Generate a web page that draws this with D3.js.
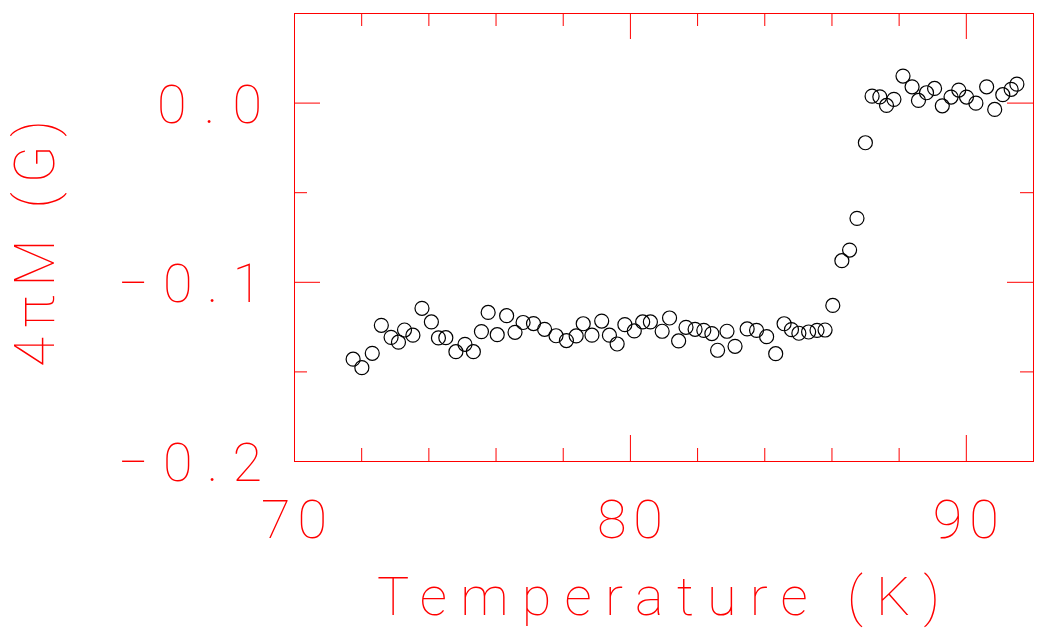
<!DOCTYPE html>
<html>
<head>
<meta charset="utf-8">
<script src="https://cdn.jsdelivr.net/npm/d3@7"></script>
<style>
  html, body { margin: 0; padding: 0; background: #fff; }
  svg { display: block; }
</style>
</head>
<body>
<div id="chart"></div>
<script>
// ── Data ──────────────────────────────────────────────────────
var temperature = [
  71.76, 72.02, 72.33, 72.60, 72.89, 73.11, 73.29, 73.54, 73.81, 74.09,
  74.30, 74.52, 74.82, 75.09, 75.34, 75.58, 75.78, 76.05, 76.33, 76.58,
  76.82, 77.13, 77.46, 77.80, 78.11, 78.40, 78.61, 78.87, 79.16, 79.39,
  79.62, 79.85, 80.13, 80.38, 80.61, 80.96, 81.18, 81.45, 81.67, 81.94,
  82.20, 82.44, 82.61, 82.89, 83.13, 83.49, 83.77, 84.07, 84.34, 84.59,
  84.81, 85.03, 85.32, 85.57, 85.81, 86.04, 86.31, 86.54, 86.76, 87.01,
  87.21, 87.44, 87.64, 87.86, 88.13, 88.40, 88.59, 88.83, 89.07, 89.30,
  89.56, 89.79, 90.02, 90.30, 90.62, 90.86, 91.10, 91.35, 91.52
];
var magnetization = [
  -0.1432, -0.1479, -0.1399, -0.1243, -0.1310, -0.1337, -0.1269, -0.1298, -0.1148, -0.1224,
  -0.1313, -0.1312, -0.1390, -0.1349, -0.1390, -0.1278, -0.1171, -0.1295, -0.1189, -0.1282,
  -0.1227, -0.1233, -0.1265, -0.1301, -0.1328, -0.1302, -0.1234, -0.1298, -0.1219, -0.1298,
  -0.1347, -0.1239, -0.1274, -0.1224, -0.1224, -0.1276, -0.1202, -0.1330, -0.1254, -0.1265,
  -0.1271, -0.1289, -0.1382, -0.1276, -0.1360, -0.1263, -0.1271, -0.1306, -0.1401, -0.1234,
  -0.1267, -0.1287, -0.1280, -0.1271, -0.1269, -0.1132, -0.0882, -0.0823, -0.0646, -0.0224,
   0.0036,  0.0032, -0.0016,  0.0018,  0.0148,  0.0088,  0.0012,  0.0055,  0.0079, -0.0018,
   0.0031,  0.0070,  0.0031, -0.0003,  0.0088, -0.0038,  0.0044,  0.0074,  0.0103
];
var xMajorTicks = [70, 80, 90];
var xMinorTicks = [72, 74, 76, 78, 82, 84, 86, 88];
var xTickLabels = ["70", "80", "90"];
var yMajorTicks = [-0.2, -0.1, 0.0];
var yMinorTicks = [-0.15, -0.05];
var yTickLabels = ["\u22120.2", "\u22120.1", "0.0"];
var xTitle = "Temperature (K)";
var yTitle = "4\u03c0M (G)";

// ── Setup ─────────────────────────────────────────────────────
var width = 1038, height = 628;
var frame = { left: 294, top: 13, right: 1033, bottom: 461 };
var red = "#ff0000";
var fontFamily = "Roboto, 'DejaVu Sans', sans-serif";

var svg = d3.select("#chart").append("svg")
  .attr("width", width)
  .attr("height", height);

var x = d3.scaleLinear().domain([70, 92]).range([frame.left, frame.right]);
var y = d3.scaleLinear().domain([-0.2, 0.05]).range([frame.bottom, frame.top]);

// frame
svg.append("rect")
  .attr("x", frame.left + 0.5)
  .attr("y", frame.top + 0.5)
  .attr("width", frame.right - frame.left)
  .attr("height", frame.bottom - frame.top)
  .attr("fill", "none")
  .attr("stroke", red)
  .attr("stroke-width", 1);

// inward ticks on all four sides (d3 adds its own half-pixel offset)
function tickAxis(axisFn, scale, values, size, transform) {
  var g = svg.append("g")
    .attr("transform", transform)
    .call(axisFn(scale).tickValues(values).tickSizeInner(-size).tickSizeOuter(0).tickFormat(""));
  g.select(".domain").remove();
  g.selectAll(".tick line").attr("stroke", red).attr("stroke-width", 1);
}

tickAxis(d3.axisBottom, x, xMajorTicks, 26, "translate(0," + frame.bottom + ")");
tickAxis(d3.axisBottom, x, xMinorTicks, 13, "translate(0," + frame.bottom + ")");
tickAxis(d3.axisTop, x, xMajorTicks, 26, "translate(0," + frame.top + ")");
tickAxis(d3.axisTop, x, xMinorTicks, 13, "translate(0," + frame.top + ")");
tickAxis(d3.axisLeft, y, yMajorTicks, 26, "translate(" + frame.left + ",0)");
tickAxis(d3.axisLeft, y, yMinorTicks, 13, "translate(" + frame.left + ",0)");
tickAxis(d3.axisRight, y, yMajorTicks, 26, "translate(" + frame.right + ",0)");
tickAxis(d3.axisRight, y, yMinorTicks, 13, "translate(" + frame.right + ",0)");

// tick labels
svg.append("g").selectAll("text")
  .data(xMajorTicks)
  .join("text")
  .attr("x", function (d) { return x(d); })
  .attr("y", 538)
  .attr("text-anchor", "middle")
  .attr("textLength", 66)
  .attr("lengthAdjust", "spacing")
  .attr("fill", red)
  .attr("font-family", fontFamily)
  .attr("font-weight", 100)
  .attr("font-size", 54)
  .text(function (d, i) { return xTickLabels[i]; });

svg.append("g").selectAll("text")
  .data(yMajorTicks)
  .join("text")
  .attr("x", 262)
  .attr("y", function (d) { return y(d) + 20; })
  .attr("text-anchor", "end")
  .attr("textLength", function (d, i) { return yTickLabels[i].length > 3 ? 144 : 105; })
  .attr("lengthAdjust", "spacing")
  .attr("fill", red)
  .attr("font-family", fontFamily)
  .attr("font-weight", 100)
  .attr("font-size", 54)
  .text(function (d, i) { return yTickLabels[i]; });

// axis titles
svg.append("text")
  .attr("x", 377)
  .attr("y", 615)
  .attr("textLength", 563)
  .attr("lengthAdjust", "spacing")
  .attr("fill", red)
  .attr("font-family", fontFamily)
  .attr("font-weight", 100)
  .attr("font-size", 54)
  .text(xTitle);

svg.append("text")
  .attr("transform", "translate(54,367) rotate(-90)")
  .attr("textLength", 247)
  .attr("lengthAdjust", "spacing")
  .attr("fill", red)
  .attr("font-family", fontFamily)
  .attr("font-weight", 100)
  .attr("font-size", 55)
  .text(yTitle);

// data points
svg.append("g").selectAll("circle")
  .data(temperature)
  .join("circle")
  .attr("cx", function (d) { return x(d); })
  .attr("cy", function (d, i) { return y(magnetization[i]); })
  .attr("r", 7)
  .attr("fill", "none")
  .attr("stroke", "#000")
  .attr("stroke-width", 1.2);
</script>
</body>
</html>
